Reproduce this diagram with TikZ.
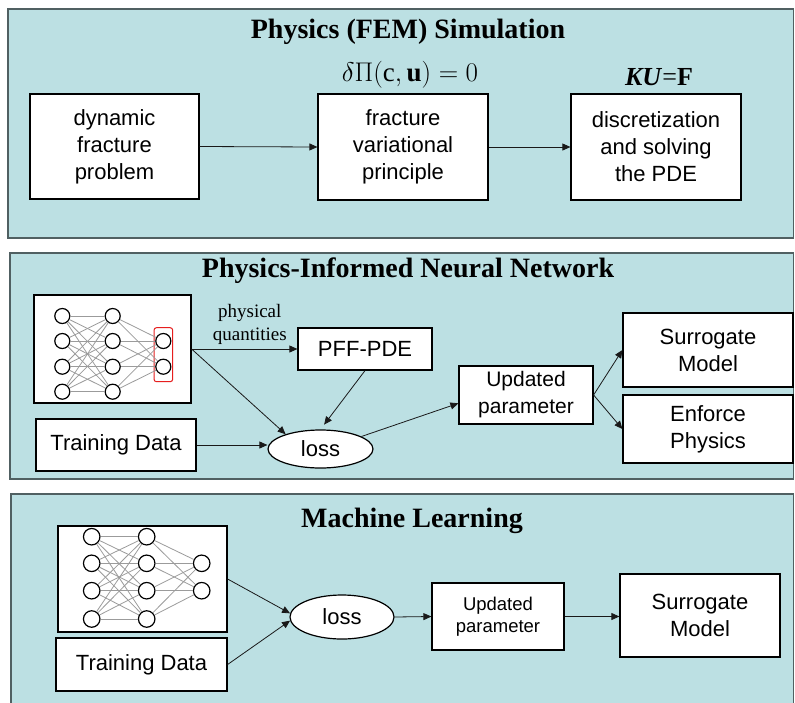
\documentclass[tikz,border=0pt]{standalone}
\usepackage{fix-cm}
\usepackage{fontspec}
\setmainfont{Liberation Serif}
\setsansfont{Liberation Sans}
\usetikzlibrary{arrows.meta,shapes.geometric}
\definecolor{panelfill}{RGB}{188,224,227}
\definecolor{panelline}{RGB}{80,96,98}
\definecolor{edgegray}{RGB}{155,155,155}
\definecolor{arrowc}{RGB}{25,25,25}
\definecolor{redsel}{RGB}{230,30,30}
\tikzset{
  panel/.style={draw=panelline, line width=1.3pt, fill=panelfill},
  boxnode/.style={draw=black, line width=1.2pt, fill=white, inner sep=0pt, align=center,
    font=\sffamily\fontsize{22}{27}\selectfont},
  ellnode/.style={ellipse, draw=black, line width=1.2pt, fill=white, inner sep=0pt,
    font=\sffamily\fontsize{22}{27}\selectfont},
  arr/.style={draw=arrowc, line width=0.8pt, -{Triangle[length=8pt,width=7pt]}},
  neuron/.style={circle, draw=black, line width=1.2pt, fill=white, inner sep=0pt},
  nnedge/.style={draw=edgegray, line width=0.8pt},
  titletext/.style={font=\bfseries\fontsize{28}{30}\selectfont, inner sep=0pt},
  eqtext/.style={font=\fontsize{27}{27}\selectfont, inner sep=0pt},
}
\begin{document}
\begin{tikzpicture}[x=1pt,y=-1pt]
\useasboundingbox (0,0) rectangle (795,702);
\clip (0,0) rectangle (795,702);
\fill[white] (0,0) rectangle (795,702);

% ---------- panels ----------
\draw[panel] (8,9) rectangle (793.5,238);
\draw[panel] (10,253) rectangle (793.5,479);
\draw[panel] (11,494) rectangle (793.5,720);

% ---------- panel 1 ----------
\node[titletext] (t1) at (408,32) {Physics (FEM) Simulation};
\node[boxnode, minimum width=169pt, minimum height=105pt] (dyn) at (114.5,146.5) {dynamic\\fracture\\problem};
\node[boxnode, minimum width=170pt, minimum height=106pt] (var) at (403,147) {fracture\\variational\\principle};
\node[boxnode, minimum width=170pt, minimum height=106pt] (disc) at (656,147) {discretization\\and solving\\the PDE};
\node[eqtext] (eq1) at (410,75) {$\delta\Pi(\mathrm{c},\mathbf{u})=0$};
\node[eqtext, font=\fontsize{26}{26}\selectfont] (eq2) at (659,77) {\textbf{\textit{KU}}=\textbf{F}};
\draw[arr] (dyn.east) -- (var.west);
\draw[arr] (var.east) -- (disc.west);

% ---------- panel 2 ----------
\node[titletext] (t2) at (408,271) {Physics-Informed Neural Network};
\node[boxnode, minimum width=157pt, minimum height=108pt] (nn2) at (112.5,349) {};
\draw[draw=redsel, line width=1pt, rounded corners=2.5pt, fill=white] (154,327.7) rectangle (172.7,381.7);
\foreach \i/\y in {1/316,2/341,3/366.7,4/391.7}{
  \node[neuron, minimum size=15pt] (pa\i) at (62.3,\y) {};
  \node[neuron, minimum size=15pt] (pb\i) at (112.7,\y) {};
}
\node[neuron, minimum size=15pt] (pc1) at (163.3,341) {};
\node[neuron, minimum size=15pt] (pc2) at (163.3,366.7) {};
\foreach \i in {1,...,4}{
  \foreach \j in {1,...,4}{ \draw[nnedge] (pa\i) -- (pb\j); }
  \foreach \j in {1,2}{ \draw[nnedge] (pb\i) -- (pc\j); }
}
\node[boxnode, minimum width=160pt, minimum height=52pt] (td2) at (116,445) {Training Data};
\node[ellnode, minimum width=105pt, minimum height=38pt] (loss2) at (320.5,449) {loss};
\node[boxnode, minimum width=134pt, minimum height=42pt] (pde) at (365,349) {PFF-PDE};
\node[boxnode, minimum width=134pt, minimum height=58pt, font=\sffamily\fontsize{21}{27}\selectfont] (up2) at (526,395) {Updated\\parameter};
\node[boxnode, minimum width=170pt, minimum height=74pt] (sur2) at (708,350) {Surrogate\\Model};
\node[boxnode, minimum width=170pt, minimum height=68pt] (enf) at (708,429) {Enforce\\Physics};
\draw[arr] (nn2.east) -- node[pos=0.55, above, inner sep=4pt, align=center,
  font=\fontsize{19}{23}\selectfont] (pq) {physical\\quantities} (pde.west);
\draw[arr] (nn2.east) -- (loss2.157);
\draw[arr, shorten >=6pt] (pde.south) -- (loss2.north);
\draw[arr] (td2.east) -- (td2.east -| loss2.west);
\draw[arr] (loss2.17) -- (up2.187);
\draw[arr] (up2.east) -- (sur2.west);
\draw[arr] (up2.east) -- (enf.west);

% ---------- panel 3 ----------
\node[titletext] (t3) at (412,521) {Machine Learning};
\node[boxnode, minimum width=169pt, minimum height=106pt] (nn3) at (142.5,579) {};
\foreach \i/\y in {1/536.7,2/563.3,3/590.7,4/619}{
  \node[neuron, minimum size=16.5pt] (ma\i) at (91.7,\y) {};
  \node[neuron, minimum size=16.5pt] (mb\i) at (146.7,\y) {};
}
\node[neuron, minimum size=16.5pt] (mc1) at (201.7,563.3) {};
\node[neuron, minimum size=16.5pt] (mc2) at (201.7,590.7) {};
\foreach \i in {1,...,4}{
  \foreach \j in {1,...,4}{ \draw[nnedge] (ma\i) -- (mb\j); }
  \foreach \j in {1,2}{ \draw[nnedge] (mb\i) -- (mc\j); }
}
\node[boxnode, minimum width=171pt, minimum height=53pt] (td3) at (141.5,664.5) {Training Data};
\node[ellnode, minimum width=104pt, minimum height=44pt] (loss3) at (342,617) {loss};
\node[boxnode, minimum width=132pt, minimum height=67pt, font=\sffamily\fontsize{18.5}{22}\selectfont] (up3) at (498,616.5) {Updated\\parameter};
\node[boxnode, minimum width=160pt, minimum height=83pt] (sur3) at (700,615.5) {Surrogate\\Model};
\draw[arr] (nn3.east) -- (loss3.176);
\draw[arr] (td3.east) -- (loss3.184);
\draw[arr] (loss3.east) -- (up3.west);
\draw[arr] (up3.east) -- (up3.east -| sur3.west);
\end{tikzpicture}
\end{document}
